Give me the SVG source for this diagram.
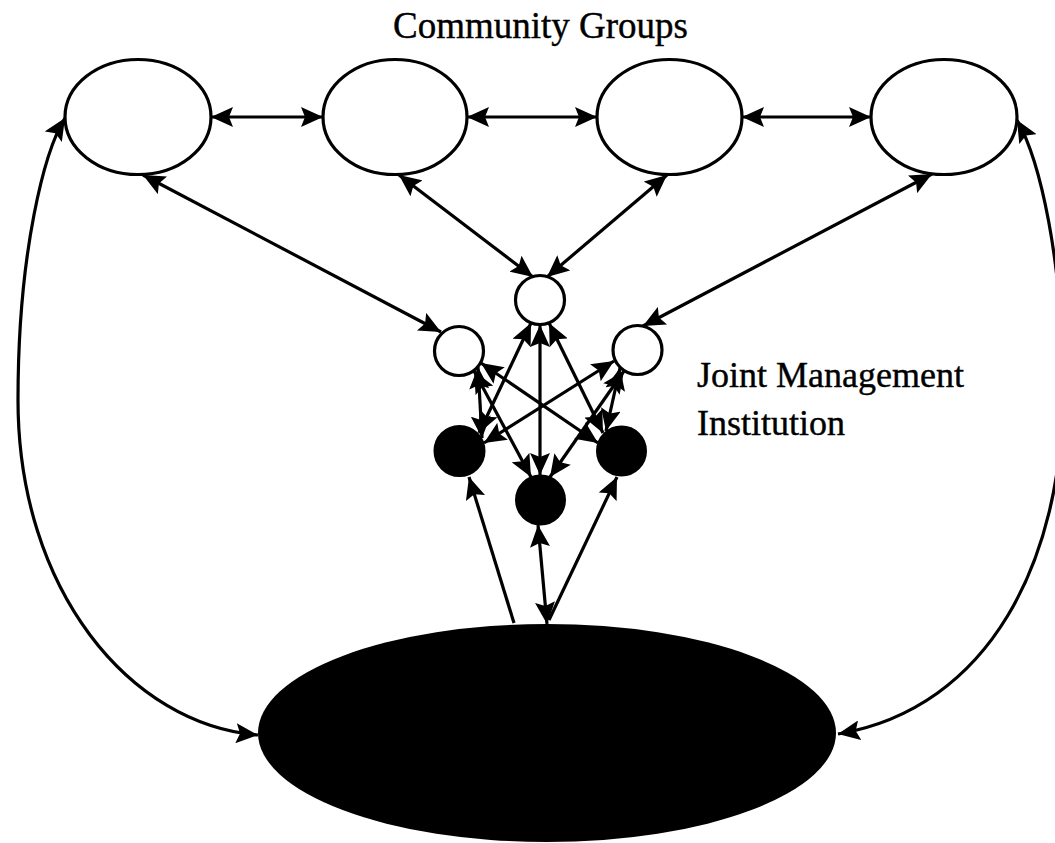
<svg xmlns="http://www.w3.org/2000/svg" width="1055" height="843" viewBox="0 0 1055 843">
<style>
.txt{font-family:"Liberation Serif","Times New Roman",serif;fill:#000;stroke:#000;stroke-width:0.4}
.open{fill:#fff;stroke:#000;stroke-width:3.2}
.solid{fill:#000;stroke:#000;stroke-width:2}
.c{fill:none;stroke:#000;stroke-width:3.2}
.b{marker-start:url(#ah);marker-end:url(#ah)}
.e{marker-end:url(#ah)}
</style>
<defs>
<marker id="ah" markerUnits="userSpaceOnUse" viewBox="0 0 22 20" refX="22" refY="10" markerWidth="22" markerHeight="20" orient="auto-start-reverse">
<path d="M0,0 L22,10 L0,20 L4,10 z" fill="#000"/>
</marker>
</defs>
<rect width="1055" height="843" fill="#fff"/>
<text class="txt" x="540.5" y="38" font-size="37" text-anchor="middle">Community Groups</text>
<g id="label-jmi">
<text class="txt" x="697" y="387" font-size="36">Joint Management</text>
<text class="txt" x="697" y="435" font-size="36">Institution</text>
</g>
<g id="connectors">
<line class="c b" x1="211" y1="117" x2="323" y2="117"/>
<line class="c b" x1="467" y1="117" x2="597" y2="117"/>
<line class="c b" x1="742" y1="117" x2="871" y2="117"/>
<line class="c b" x1="143" y1="175" x2="441" y2="332"/>
<line class="c b" x1="399" y1="175" x2="533" y2="277"/>
<line class="c b" x1="667" y1="175" x2="547" y2="277"/>
<line class="c b" x1="932" y1="174" x2="643" y2="326"/>
<line class="c b" x1="540" y1="325" x2="540" y2="475"/>
<line class="c b" x1="531" y1="323" x2="479" y2="433"/>
<line class="c b" x1="549" y1="323" x2="603" y2="433"/>
<line class="c b" x1="478" y1="367" x2="482" y2="438"/>
<line class="c b" x1="481" y1="363" x2="598" y2="443"/>
<line class="c b" x1="474" y1="371" x2="531" y2="477"/>
<line class="c b" x1="614" y1="361" x2="484" y2="443"/>
<line class="c b" x1="624" y1="371" x2="550" y2="477"/>
<line class="c b" x1="620" y1="368" x2="606" y2="431"/>
<line class="c e" x1="514" y1="623" x2="469" y2="477"/>
<line class="c b" x1="538" y1="525" x2="547" y2="624"/>
<line class="c e" x1="549" y1="620" x2="617" y2="477"/>
<path class="c b" d="M65,118 C45,150 18,250 18,400 C18,590 130,725 258,735"/>
<path class="c b" d="M1017,120 C1040,160 1063,260 1063,390 C1063,560 990,708 838,734"/>
</g>
<g id="cg1"><ellipse class="open" cx="138" cy="117" rx="73" ry="57.5"/></g>
<g id="cg2"><ellipse class="open" cx="395" cy="117" rx="72" ry="57.5"/></g>
<g id="cg3"><ellipse class="open" cx="669.5" cy="117" rx="72.5" ry="57.5"/></g>
<g id="cg4"><ellipse class="open" cx="944" cy="117" rx="73" ry="57.5"/></g>
<g id="jm-top"><circle class="open" cx="540" cy="300" r="24.5"/></g>
<g id="jm-left"><circle class="open" cx="459" cy="351" r="24.5"/></g>
<g id="jm-right"><circle class="open" cx="637.5" cy="350" r="24.5"/></g>
<g id="jm-b-left"><circle class="solid" cx="459.5" cy="451" r="25"/></g>
<g id="jm-b-mid"><circle class="solid" cx="540.5" cy="500" r="24.5"/></g>
<g id="jm-b-right"><circle class="solid" cx="621.5" cy="451" r="24.5"/></g>
<g id="base"><ellipse fill="#000" cx="547" cy="733" rx="289" ry="109"/></g>
</svg>
